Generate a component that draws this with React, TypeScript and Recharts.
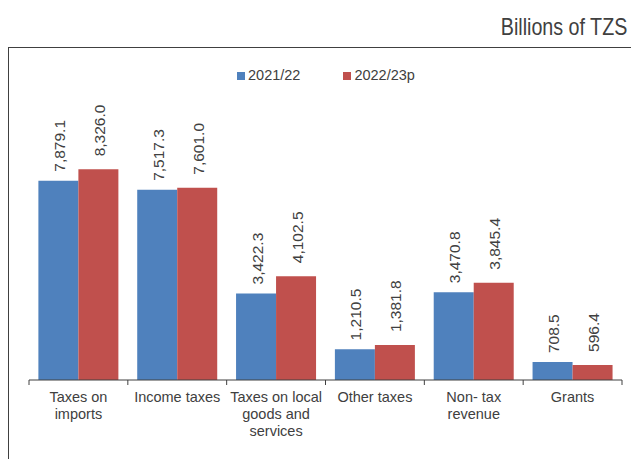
import React from 'react';
import { BarChart, Bar, XAxis, YAxis, LabelList } from 'recharts';

const categories = [
  'Taxes on imports',
  'Income taxes',
  'Taxes on local goods and services',
  'Other taxes',
  'Non- tax revenue',
  'Grants',
];
const tickLabels = [
  ['Taxes on', 'imports'],
  ['Income taxes'],
  ['Taxes on local', 'goods and', 'services'],
  ['Other taxes'],
  ['Non- tax', 'revenue'],
  ['Grants'],
];
const series2021 = [7879.1, 7517.3, 3422.3, 1210.5, 3470.8, 708.5];
const series2022 = [8326.0, 7601.0, 4102.5, 1381.8, 3845.4, 596.4];
const seriesNames = ['2021/22', '2022/23p'];
const colors = ['#4F81BD', '#C0504D'];

const data = categories.map((c, i) => ({
  name: c,
  idx: i,
  a: series2021[i],
  b: series2022[i],
}));

const FONT = '"Liberation Sans", Arial, sans-serif';
const TEXT = '#404040';

const fmt = (v: number) =>
  v.toLocaleString('en-US', { minimumFractionDigits: 1, maximumFractionDigits: 1 });

const makeLabel = (gap: number) => (props: any) => {
  const { x, y, width, value } = props;
  const cx = Number(x) + Number(width) / 2 + 1;
  const cy = Number(y) - gap;
  return (
    <text
      x={cx}
      y={cy}
      transform={`rotate(-90, ${cx}, ${cy})`}
      textAnchor="start"
      dominantBaseline="central"
      fontSize={15.5}
      fontFamily={FONT}
      fill={TEXT}
    >
      {fmt(Number(value))}
    </text>
  );
};
const LabelA = makeLabel(9);
const LabelB = makeLabel(13);

const CatTick = (props: any) => {
  const { x, y, payload, index } = props;
  const half = payload && payload.offset ? payload.offset : 49.4;
  const i0 = payload.index ?? index;
  const lines = tickLabels[i0] || [String(payload.value)];
  const isLast = i0 === categories.length - 1;
  return (
    <g>
      <line x1={x - half} x2={x - half} y1={y - 8} y2={y - 3} stroke={TEXT} />
      {isLast && <line x1={x + half} x2={x + half} y1={y - 8} y2={y - 3} stroke={TEXT} />}
      {lines.map((l: string, i: number) => (
        <text
          key={i}
          x={x}
          y={y + 14 + i * 17}
          textAnchor="middle"
          fontSize={14.5}
          fontFamily={FONT}
          fill={TEXT}
        >
          {l}
        </text>
      ))}
    </g>
  );
};

export default function App() {
  return (
    <div style={{ position: 'absolute', left: 0, top: 0, width: 631, height: 459, background: '#fff', overflow: 'hidden' }}>
      <div
        style={{
          position: 'absolute',
          right: 4,
          top: 13,
          fontFamily: FONT,
          fontSize: 24,
          lineHeight: '28px',
          color: TEXT,
          whiteSpace: 'nowrap',
          transform: 'scaleX(0.82)',
          transformOrigin: 'right center',
        }}
      >
        Billions of TZS
      </div>
      <div
        style={{
          position: 'absolute',
          left: 8,
          top: 47,
          width: 640,
          height: 430,
          borderTop: `1px solid ${TEXT}`,
          borderLeft: `1px solid ${TEXT}`,
        }}
      />
      <div
        style={{
          position: 'absolute',
          left: 237,
          top: 67,
          display: 'flex',
          fontFamily: FONT,
          fontSize: 14.5,
          color: TEXT,
          lineHeight: '17px',
        }}
      >
        {seriesNames.map((n, i) => (
          <div key={n} style={{ display: 'flex', alignItems: 'center', marginRight: i === 0 ? 43 : 0 }}>
            <span
              style={{ display: 'inline-block', width: 8, height: 8, background: colors[i], marginRight: 3 }}
            />
            <span>{n}</span>
          </div>
        ))}
      </div>
      <div style={{ position: 'absolute', left: 0, top: 0 }}>
        <BarChart
          width={631}
          height={459}
          data={data}
          margin={{ top: 127, right: 9, bottom: 19, left: 29 }}
          barCategoryGap="9.5%"
          barGap={0}
        >
          <XAxis
            dataKey="name"
            interval={0}
            height={60}
            axisLine={{ stroke: TEXT }}
            tickLine={false}
            tick={<CatTick />}
          />
          <YAxis hide domain={[0, 10000]} />
          <Bar dataKey="a" name={seriesNames[0]} fill={colors[0]} isAnimationActive={false}>
            <LabelList dataKey="a" content={<LabelA />} />
          </Bar>
          <Bar dataKey="b" name={seriesNames[1]} fill={colors[1]} isAnimationActive={false}>
            <LabelList dataKey="b" content={<LabelB />} />
          </Bar>
        </BarChart>
      </div>
    </div>
  );
}
